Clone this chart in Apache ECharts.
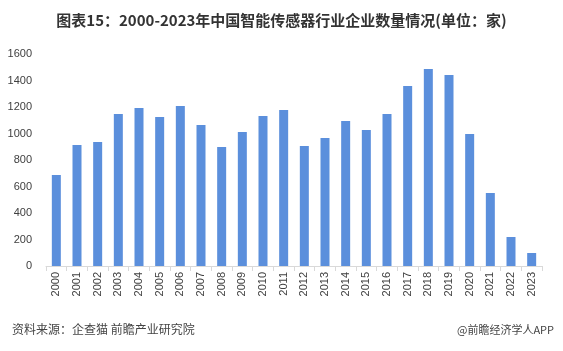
<!DOCTYPE html>
<html>
<head>
<meta charset="utf-8">
<script src="https://cdn.jsdelivr.net/npm/echarts@6/dist/echarts.min.js"></script>
<style>
  html, body { margin: 0; padding: 0; background: #fff; }
  #main { width: 563px; height: 351px; }
</style>
</head>
<body>
<div id="main"></div>
<script>
var years = ['2000','2001','2002','2003','2004','2005','2006','2007','2008','2009','2010','2011',
             '2012','2013','2014','2015','2016','2017','2018','2019','2020','2021','2022','2023'];
var companyCount = [687,913,936,1147,1192,1125,1208,1064,898,1011,1132,1177,
                    906,966,1094,1026,1147,1358,1487,1442,996,551,219,98];
var yTicks = [0,200,400,600,800,1000,1200,1400,1600];

var chartDom = document.getElementById('main');
var myChart = echarts.init(chartDom);
var option;

option = {
  animation: false,
  title: [
    {
      text: '图表15：2000-2023年中国智能传感器行业企业数量情况(单位：家)',
      left: 'center',
      top: 8,
      textStyle: {
        fontFamily: 'Noto Sans CJK SC',
        fontSize: 15,
        fontWeight: 'bold',
        color: '#333333'
      }
    },
    {
      text: '资料来源：企查猫 前瞻产业研究院',
      left: 7,
      top: 318,
      textStyle: { fontFamily: 'Noto Sans CJK SC', fontSize: 12, fontWeight: 'normal', color: '#444444' }
    },
    {
      text: '@前瞻经济学人APP',
      right: 4,
      top: 319,
      textStyle: { fontFamily: 'Noto Sans CJK SC', fontSize: 11, fontWeight: 'normal', color: '#444444' }
    }
  ],
  grid: {
    left: 46,
    right: 21,
    top: 54,
    bottom: 85
  },
  xAxis: {
    type: 'category',
    data: years,
    axisLine: { lineStyle: { color: '#d9d9d9' } },
    axisTick: { show: true, alignWithLabel: false, lineStyle: { color: '#d9d9d9' } },
    axisLabel: {
      rotate: 90,
      interval: 0,
      fontFamily: 'Liberation Sans',
      fontSize: 11,
      color: '#404040',
      margin: 6
    }
  },
  yAxis: {
    type: 'value',
    min: yTicks[0],
    max: yTicks[yTicks.length - 1],
    interval: 200,
    splitLine: { show: false },
    axisLine: { show: false },
    axisTick: { show: false },
    axisLabel: {
      fontFamily: 'Liberation Sans',
      fontSize: 11,
      color: '#404040',
      margin: 14,
      formatter: function (v) { return String(v); }
    }
  },
  series: [
    {
      name: '企业数量',
      type: 'bar',
      data: companyCount,
      barWidth: 9,
      itemStyle: { color: '#5b8fdc' }
    }
  ]
};

option && myChart.setOption(option);
</script>
</body>
</html>
